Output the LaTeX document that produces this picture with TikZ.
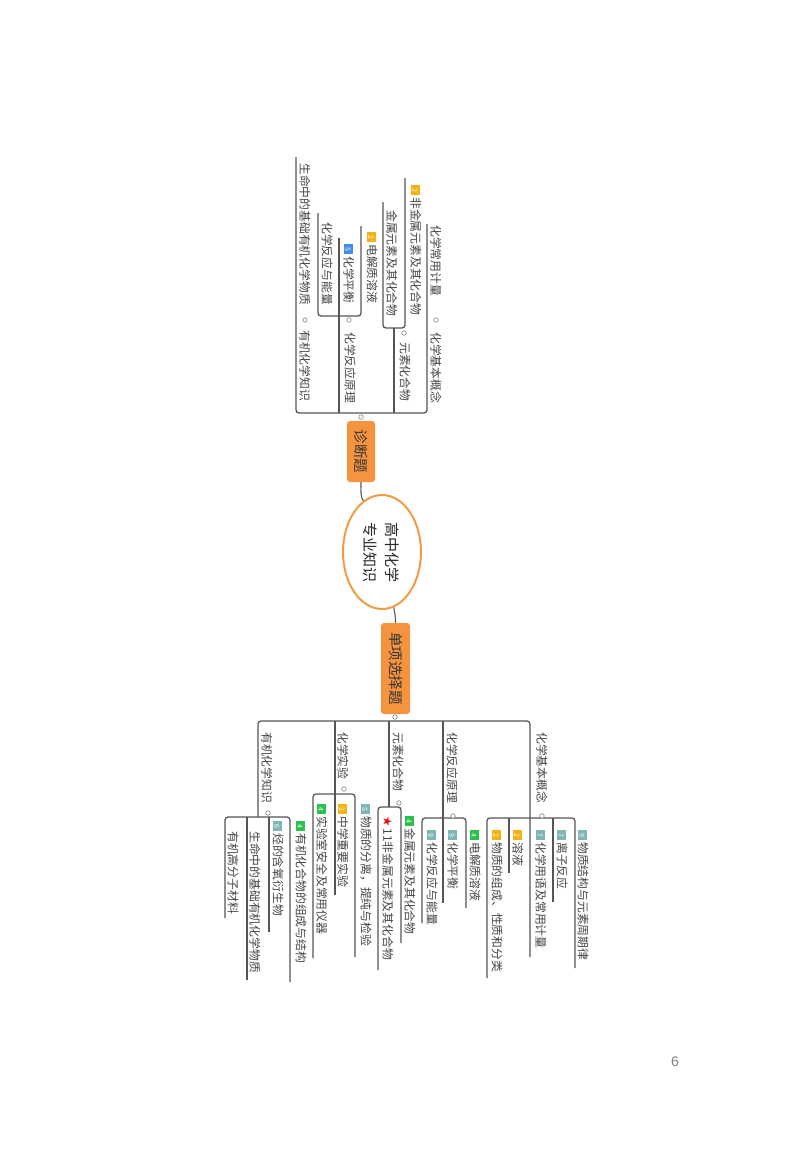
\documentclass[tikz,border=0pt]{standalone}
\usepackage{fontspec}
\setmainfont{Noto Sans CJK SC}
\newfontfamily\dejavu{DejaVu Sans}
\newfontfamily\numfont{Liberation Sans}
\usetikzlibrary{shapes.geometric}
\definecolor{linec}{HTML}{555555}
\definecolor{lightln}{HTML}{AAAAAA}
\definecolor{txtc}{HTML}{444444}
\definecolor{orng}{HTML}{F5B213}
\definecolor{teal}{HTML}{7FB5B5}
\definecolor{grn}{HTML}{2BC24B}
\definecolor{blu}{HTML}{3F8EEA}
\definecolor{boxor}{HTML}{F5933F}
\definecolor{ellor}{HTML}{F39A48}
\newcommand{\bdg}[2]{{\setlength{\fboxsep}{0pt}\colorbox{#1}{\makebox[9.5pt][c]{\rule[-0.8pt]{0pt}{9.5pt}\raisebox{0.8pt}{\textcolor{white}{\fontsize{7}{7}\selectfont #2}}}}}\hspace{2.5pt}}
\begin{document}
\begin{tikzpicture}[x=1pt,y=-1pt,
  txt/.style={rotate=-90, anchor=west, inner sep=0pt, font=\fontsize{11.8}{12}\selectfont, text=txtc},
  ln/.style={draw=linec, line width=1.3pt},
  lnl/.style={draw=lightln, line width=1.3pt},
  brk/.style={draw=linec, line width=1.3pt, rounded corners=3pt},
  dot/.style={circle, draw=gray, fill=white, inner sep=0pt, minimum size=4.5pt, line width=0.6pt},
  topbox/.style={rotate=-90, draw=none, fill=boxor, rounded corners=3pt, text=black!80, font=\fontsize{14.5}{15}\selectfont, inner sep=0pt}
]
\useasboundingbox (0,0) rectangle (800,1160);

% root
\node[ellipse, draw=ellor, line width=2pt, fill=white, minimum width=78pt, minimum height=114pt] (root) at (382,552) {};
\node[rotate=-90, align=center, inner sep=0pt, font=\fontsize{15}{22}\selectfont, text=black!85] (roottxt) at (381,552) {高中化学\\专业知识};

% main boxes
\node[topbox, minimum width=61pt, minimum height=28pt] (dz) at (361,451.5) {诊断题};
\node[topbox, minimum width=91pt, minimum height=29pt] (dx) at (395.5,668.5) {单项选择题};
\draw[ln, line width=1.1pt] (dz.east) .. controls +(0,9) and +(-3,-4) .. (root.110);
\draw[ln, line width=1.1pt] (root.-78) .. controls +(1,6) and +(0,-6) .. (dx.west);
\node[dot] (dzdot) at (361,417) {};
\node[dot] (dxdot) at (395,717) {};

% ---------- top group (诊断题) ----------
\draw[brk] (296,157) -- (296,413) -- (427,413) -- (427,224);
\draw[ln] (339,238) -- (339,413);
\draw[ln] (394,328) -- (394,413);
\draw[brk] (383,202) -- (383,328) -- (405,328) -- (405,178);
\draw[brk] (318,213) -- (318,316) -- (361,316) -- (361,226);

\node[txt] (t1) at (436,332) {化学基本概念};
\node[txt] (t1a) at (436,225) {化学常用计量};
\node[txt] (t2) at (405,342) {元素化合物};
\node[txt] (t2a) at (416,185) {\bdg{orng}{2}非金属元素及其化合物};
\node[txt] (t2b) at (392,210) {金属元素及其化合物};
\node[txt] (t3) at (350,332) {化学反应原理};
\node[txt] (t3a) at (372,232) {\bdg{orng}{2}电解质溶液};
\node[txt] (t3b) at (349,244) {\bdg{blu}{5}化学平衡};
\node[txt] (t3c) at (327,222) {化学反应与能量};
\node[txt] (t4) at (305,330) {有机化学知识};
\node[txt] (t4a) at (305,163) {生命中的基础有机化学物质};
\node[dot] at (436,320) {};
\node[dot] at (404,333) {};
\node[dot] at (349,320) {};
\node[dot] at (305,320) {};

% ---------- bottom group (单项选择题) ----------
\draw[brk] (258,817) -- (258,721) -- (530,721) -- (530,957);
\draw[ln] (335,721) -- (335,895);
\draw[ln] (389,721) -- (389,807);
\draw[ln] (443,721) -- (443,903);
% 化学基本概念
\draw[brk] (487,978) -- (487,818) -- (575,818) -- (575,968);
\draw[ln] (509,818) -- (509,873);
\draw[ln] (553,818) -- (553,902);
% 化学反应原理
\draw[brk] (422,923) -- (422,818) -- (466,818) -- (466,908);
% 元素化合物
\draw[brk] (378,970) -- (378,807) -- (401,807) -- (401,943);
% 化学实验
\draw[brk] (313,958) -- (313,794) -- (355,794) -- (355,957);
% 有机化学知识
\draw[brk] (225,918) -- (225,817) -- (290,817) -- (290,982);
\draw[ln] (247,817) -- (247,980);
\draw[ln] (269,817) -- (269,932);

\node[txt] (b1) at (542,732) {化学基本概念};
\node[txt] (b2) at (452,732) {化学反应原理};
\node[txt] (b3) at (398,732) {元素化合物};
\node[txt] (b4) at (343,732) {化学实验};
\node[txt] (b5) at (267,732) {有机化学知识};
\node[dot] at (542,816) {};
\node[dot] at (453,816) {};
\node[dot] at (399,803) {};
\node[dot] at (344,789) {};
\node[dot] at (268,813) {};

\node[txt] (b1a) at (583,830) {\bdg{teal}{9}物质结构与元素周期律};
\node[txt] (b1b) at (562,830) {\bdg{teal}{7}离子反应};
\node[txt] (b1c) at (541,830) {\bdg{teal}{7}化学用语及常用计量};
\node[txt] (b1d) at (518,830) {\bdg{orng}{2}溶液};
\node[txt] (b1e) at (497,830) {\bdg{orng}{2}物质的组成、性质和分类};

\node[txt] (b2a) at (475,830) {\bdg{grn}{4}电解质溶液};
\node[txt] (b2b) at (453,830) {\bdg{teal}{9}化学平衡};
\node[txt] (b2c) at (432,830) {\bdg{teal}{9}化学反应与能量};

\node[txt] (b3a) at (410,816) {\bdg{grn}{4}金属元素及其化合物};
\node[txt] (b3b) at (388,816) {{\dejavu\textcolor{red}{★}}\hspace{2pt}11非金属元素及其化合物};

\node[txt] (b4a) at (366,804) {\bdg{teal}{5}物质的分离，提纯与检验};
\node[txt] (b4b) at (343,804) {\bdg{orng}{2}中学重要实验};
\node[txt] (b4c) at (322,804) {\bdg{grn}{4}实验室安全及常用仪器};

\node[txt] (b5a) at (301,821) {\bdg{grn}{4}有机化合物的组成与结构};
\node[txt] (b5b) at (278,821) {\bdg{teal}{6}烃的含氧衍生物};
\node[txt] (b5c) at (255,831) {生命中的基础有机化学物质};
\node[txt] (b5d) at (233,831) {有机高分子材料};

% page number
\node[font=\fontsize{14}{14}\selectfont\numfont, text=gray] (pg) at (675,1062) {6};
\end{tikzpicture}
\end{document}
